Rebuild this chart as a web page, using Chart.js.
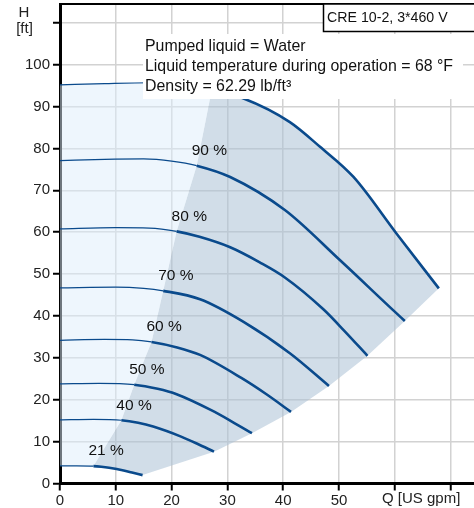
<!DOCTYPE html>
<html>
<head>
<meta charset="utf-8">
<script src="https://cdn.jsdelivr.net/npm/chart.js@4.4.0/dist/chart.umd.min.js"></script>
<style>
  html, body { margin: 0; padding: 0; background: #fff; }
  #wrap { width: 474px; height: 508px; }
</style>
</head>
<body>
<div id="wrap"><canvas id="chartPump"></canvas></div>
<script>
// axis ticks
const xTicks = [0, 10, 20, 30, 40, 50, 60, 70];
const xTickLabels = ['0', '10', '20', '30', '40', '50', '', ''];
const yTicks = [0, 10, 20, 30, 40, 50, 60, 70, 80, 90, 100, 110];
const yTickLabels = ['0', '10', '20', '30', '40', '50', '60', '70', '80', '90', '100', ''];

// pump curves, [Q US gpm, H ft]
const curve100 = [[0, 95.2], [8, 95.5], [16, 95.7], [22, 95.1], [27.2, 94.0], [32.8, 92.0], [41.2, 86.3], [46.6, 80.4], [52.6, 73.2], [60.3, 59.7], [67.9, 46.6]];
const curve90 = [[0, 77.1], [8, 77.4], [15, 77.5], [20, 77.0], [24.5, 75.9], [30.5, 73.2], [40.3, 65.3], [50.2, 53.3], [59.7, 41.4], [61.8, 38.8]];
const curve80 = [[0, 60.8], [10, 61.1], [16, 61.0], [20.9, 60.2], [25, 58.9], [30.5, 56.4], [35.8, 52.8], [40.3, 49.2], [47.2, 41.6], [51, 36.4], [55.1, 30.5]];
const curve70 = [[0, 46.7], [10, 46.9], [15, 46.6], [18.5, 46.0], [25.1, 44.0], [32.9, 38.6], [41.2, 31.1], [48.2, 23.3]];
const curve60 = [[0, 34.2], [8, 34.4], [13, 34.3], [16.4, 33.8], [21, 32.5], [25.1, 30.7], [32.5, 25.2], [37, 21.3], [41.4, 17.1]];
const curve50 = [[0, 23.8], [7, 23.9], [13.3, 23.6], [17.5, 22.6], [20.9, 21.3], [27.1, 17.5], [30.8, 14.8], [34.4, 12.0]];
const curve40 = [[0, 15.2], [6, 15.3], [11, 15.1], [14, 14.5], [16.7, 13.6], [21.7, 11.2], [24.6, 9.5], [27.6, 7.6]];
const curve21 = [[0, 4.2], [3, 4.22], [6, 4.16], [7.4, 4.0], [8.8, 3.75], [11.4, 3.1], [12.9, 2.6], [14.8, 2.0]];

const curves = [curve100, curve90, curve80, curve70, curve60, curve50, curve40, curve21];
const curveLabels = ['', '90 %', '80 %', '70 %', '60 %', '50 %', '40 %', '21 %'];
// flow where each curve enters the recommended (shaded) range
const thickFrom = [27.2, 24.5, 20.9, 18.5, 16.4, 13.3, 11, 6];

const FONT = "'Liberation Sans', Arial, sans-serif";
const LINE = '#0a4a8c';

const toXY = arr => arr.map(p => ({ x: p[0], y: p[1] }));
const pointAt = (c, q) => c.find(p => p[0] === q);

const boundary = curves.map((c, i) => pointAt(c, thickFrom[i]));
const ends = curves.map(c => c[c.length - 1]);
const last100 = ends[0][0];

const grayShape = [
  ...boundary,
  ...curve21.filter(p => p[0] > thickFrom[7]),
  ...ends.slice(0, 7).reverse(),
  ...curve100.filter(p => p[0] > thickFrom[0] && p[0] < last100).reverse()
];
const lightShape = [
  [0, curve21[0][1]],
  ...curve100.filter(p => p[0] <= thickFrom[0]),
  ...boundary.slice(1),
  ...curve21.filter(p => p[0] < thickFrom[7]).reverse()
];

const datasets = [
  {
    data: toXY(lightShape), fill: 'shape', order: 10,
    backgroundColor: 'rgba(221,237,251,0.5)', borderWidth: 0, pointRadius: 0, tension: 0
  },
  {
    data: toXY(grayShape), fill: 'shape', order: 10,
    backgroundColor: 'rgba(171,193,213,0.55)', borderWidth: 0, pointRadius: 0, tension: 0
  }
];
curves.forEach((c, i) => {
  datasets.push({
    data: toXY(c),
    borderColor: LINE,
    pointRadius: 0,
    fill: false,
    order: 1,
    cubicInterpolationMode: 'monotone',
    segment: { borderWidth: s => (s.p0.parsed.x >= thickFrom[i] - 0.01 ? 2.6 : 1.2) }
  });
});

const decorations = {
  id: 'decorations',
  afterDatasetsDraw(chart) {
    const { ctx, scales } = chart;
    ctx.save();

    // percent labels
    ctx.fillStyle = '#111';
    ctx.font = '15.5px ' + FONT;
    ctx.textAlign = 'left';
    ctx.textBaseline = 'middle';
    curves.forEach((c, i) => {
      if (!curveLabels[i]) return;
      const p = boundary[i];
      const px = scales.x.getPixelForValue(p[0]);
      const py = scales.y.getPixelForValue(p[1]);
      ctx.fillText(curveLabels[i], px - 5, py - 15);
    });

    // info box
    ctx.fillStyle = '#fff';
    ctx.fillRect(143, 34, 320, 65);
    ctx.fillStyle = '#111';
    ctx.font = '15.9px ' + FONT;
    ctx.fillText('Pumped liquid = Water', 145, 46.5);
    ctx.fillText('Liquid temperature during operation = 68 \u00B0F', 145, 66.5);
    ctx.fillText('Density = 62.29 lb/ft\u00B3', 145, 86.5);

    ctx.restore();
  },
  afterDraw(chart) {
    const { ctx, chartArea } = chart;
    ctx.save();
    // top frame line
    ctx.strokeStyle = '#000';
    ctx.lineWidth = 2;
    ctx.beginPath();
    ctx.moveTo(chartArea.left, chartArea.top);
    ctx.lineTo(chartArea.right, chartArea.top);
    ctx.stroke();

    // title box
    ctx.fillStyle = '#fff';
    ctx.fillRect(323.5, chartArea.top, 160, 27.5);
    ctx.lineWidth = 1.5;
    ctx.strokeRect(323.5, chartArea.top, 160, 27.5);
    ctx.fillStyle = '#111';
    ctx.font = '14.2px ' + FONT;
    ctx.textBaseline = 'middle';
    ctx.textAlign = 'left';
    ctx.fillText('CRE 10-2, 3*460 V', 327, 18);

    // axis titles
    ctx.font = '15px ' + FONT;
    ctx.fillStyle = '#222';
    ctx.textAlign = 'center';
    ctx.fillText('H', 24, 12.5);
    ctx.fillText('[ft]', 24.5, 28.5);
    ctx.textAlign = 'left';
    ctx.fillText('Q [US gpm]', 382, 499);
    ctx.restore();
  }
};

new Chart(document.getElementById('chartPump').getContext('2d'), {
  type: 'line',
  data: { datasets },
  options: {
    responsive: true,
    maintainAspectRatio: false,
    animation: false,
    devicePixelRatio: 1,
    layout: { padding: { top: 4, right: 0, left: 0, bottom: 0 } },
    plugins: {
      legend: { display: false },
      tooltip: { enabled: false }
    },
    scales: {
      x: {
        type: 'linear', min: 0, max: 74.2,
        afterBuildTicks: s => { s.ticks = xTicks.map(v => ({ value: v })); },
        afterFit: s => { s.height = 24.5; s.paddingLeft = 0; s.paddingRight = 0; },
        grid: { color: '#d2d2d2', lineWidth: 1.5, tickLength: 7, tickColor: '#000', tickWidth: 2 },
        border: { color: '#000', width: 3 },
        ticks: {
          callback: (v, i) => xTickLabels[i],
          font: { family: FONT, size: 15 }, color: '#222', padding: 1,
          maxRotation: 0, autoSkip: false
        }
      },
      y: {
        type: 'linear', min: 0, max: 114.5,
        afterBuildTicks: s => { s.ticks = yTicks.map(v => ({ value: v })); },
        afterFit: s => { s.width = 60; s.paddingTop = 0; s.paddingBottom = 0; },
        grid: { color: '#d2d2d2', lineWidth: 1.5, tickLength: 7, tickColor: '#000', tickWidth: 2 },
        border: { color: '#000', width: 3 },
        ticks: {
          callback: (v, i) => yTickLabels[i],
          font: { family: FONT, size: 15 }, color: '#222', padding: 3,
          autoSkip: false
        }
      }
    }
  },
  plugins: [decorations]
});
</script>
</body>
</html>
